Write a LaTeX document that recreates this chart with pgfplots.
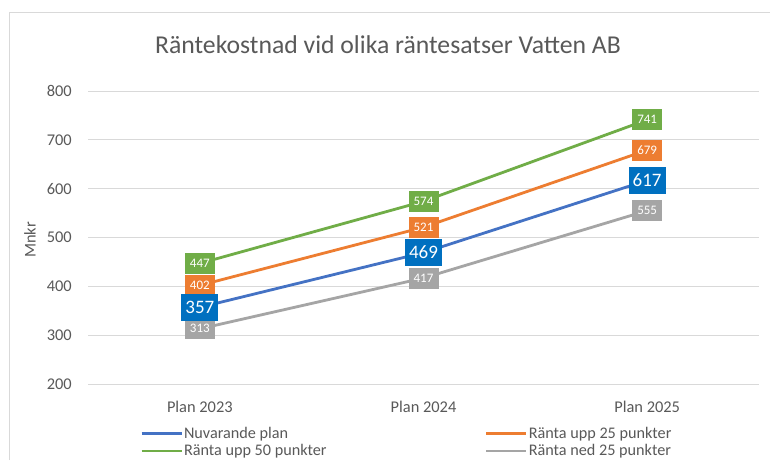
\documentclass[border=0pt]{standalone}
\usepackage{pgfplots}
\pgfplotsset{compat=1.18}
\usepackage{fontspec}
\setmainfont{Carlito}
\definecolor{cblue}{HTML}{4472C4}
\definecolor{cblueb}{HTML}{0070C0}
\definecolor{corange}{HTML}{ED7D31}
\definecolor{cgreen}{HTML}{70AD47}
\definecolor{cgray}{HTML}{A5A5A5}
\definecolor{framegray}{HTML}{D9D9D9}
\definecolor{txtgray}{HTML}{595959}
\begin{document}
\begin{tikzpicture}[x=1pt,y=1pt]
\useasboundingbox (0,0) rectangle (770,460);
\fill[white] (0,0) rectangle (770,460);
\draw[framegray, line width=1pt] (9,0) -- (9,447) -- (770,447);
\node[text=txtgray, font=\fontsize{25.7}{30}\selectfont] at (388,415) {Räntekostnad vid olika räntesatser Vatten AB};
\node[rotate=90, text=txtgray, font=\fontsize{16.4}{20}\selectfont] at (30,220) {Mnkr};
\begin{axis}[
  at={(88pt,76pt)}, anchor=south west,
  scale only axis, width=671pt, height=293pt,
  xmin=-0.5, xmax=2.5, ymin=200, ymax=800,
  xtick={0,1,2}, xticklabels={Plan 2023, Plan 2024, Plan 2025},
  ytick={200,300,...,800},
  ymajorgrids, grid style={framegray, line width=1pt},
  axis line style={draw=none},
  major tick length=0pt,
  /pgf/number format/assume math mode=true,
  tick label style={font=\fontsize{16.4}{20}\selectfont, text=txtgray, inner sep=0pt},
  yticklabel style={anchor=east, xshift=-16pt},
  xticklabel style={anchor=base, yshift=-28pt},
  legend columns=2,
  legend cell align=left,
  legend style={at={(0.0775,-0.142)}, anchor=north west, draw=none, fill=none,
    inner sep=0pt, column sep=0pt, row sep=3pt,
    font=\fontsize{16.2}{18}\selectfont, text=txtgray,
    nodes={inner sep=1pt}},
  legend image code/.code={\draw[#1, line width=2.8pt] (0pt,0pt) -- (40pt,0pt);},
  small label/.style={nodes near coords,
    every node near coord/.append style={anchor=center, fill=#1, text=white,
      minimum width=30pt, minimum height=21pt, inner sep=0pt,
      font=\fontsize{13}{13}\selectfont}},
]
\addplot[cblue, line width=2.8pt] coordinates {(0,357) (1,469) (2,617)};
\addlegendentry{\makebox[300pt][l]{Nuvarande plan}}
\addplot[corange, line width=2.8pt, small label=corange] coordinates {(0,402) (1,521) (2,679)};
\addlegendentry{Ränta upp 25 punkter}
\addplot[cgreen, line width=2.8pt, small label=cgreen] coordinates {(0,447) (1,574) (2,741)};
\addlegendentry{\makebox[300pt][l]{Ränta upp 50 punkter}}
\addplot[cgray, line width=2.8pt, small label=cgray] coordinates {(0,313) (1,417) (2,555)};
\addlegendentry{Ränta ned 25 punkter}
\addplot[forget plot, draw=none, nodes near coords,
  every node near coord/.append style={anchor=center, fill=cblueb, text=white,
    minimum width=37pt, minimum height=27pt, inner sep=0pt,
    font=\fontsize{19}{19}\selectfont}]
  coordinates {(0,357) (1,469) (2,617)};
\end{axis}
\end{tikzpicture}
\end{document}
